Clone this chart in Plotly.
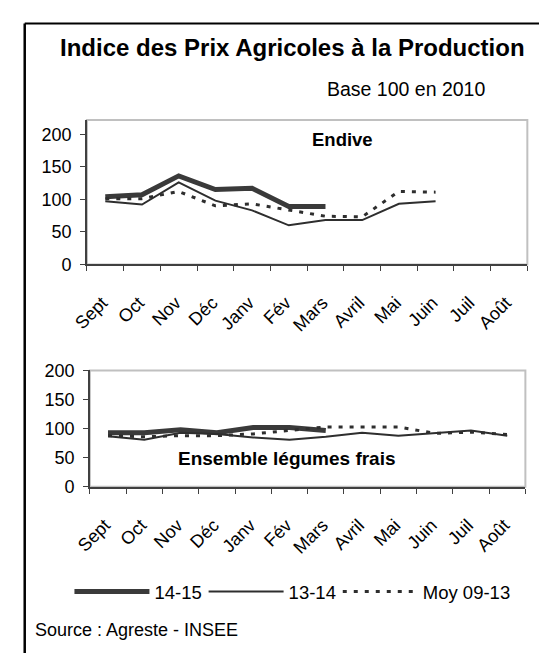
import plotly.graph_objects as go

# ---- data ----
months = ["Sept", "Oct", "Nov", "Déc", "Janv", "Fév", "Mars", "Avril", "Mai", "Juin", "Juil", "Août"]
y_ticks = [0, 50, 100, 150, 200]
series_names = ["14-15", "13-14", "Moy 09-13"]

endive_1415 = [104, 107, 136, 115, 117, 89, 89]
endive_1314 = [97, 92, 126, 98, 83, 60, 68, 68, 93, 97]
endive_moy = [101, 101, 112, 90, 93, 83, 74, 73, 112, 111]

legumes_1415 = [93, 93, 98, 93, 102, 102, 97]
legumes_1314 = [87, 81, 93, 91, 85, 81, 86, 93, 88, 93, 97, 88]
legumes_moy = [88, 86, 88, 88, 91, 97, 103, 103, 103, 92, 94, 90]

# ---- styling ----
FONT = "Liberation Sans, Arial, sans-serif"
W, H = 539, 663
styles = [
    dict(color="#3a3a3a", width=5),
    dict(color="#2e2e2e", width=2),
    dict(color="#2e2e2e", width=3, dash="4px,7px"),
]
legend_ids = ["legend", "legend2", "legend3"]
legend_x_px = [56, 194, 332]

def py(px):
    return 1 - px / H

def pxx(px):
    return px / W

fig = go.Figure()

top = [endive_1415, endive_1314, endive_moy]
bot = [legumes_1415, legumes_1314, legumes_moy]
for i, (vals, name) in enumerate(zip(top, series_names)):
    fig.add_trace(go.Scatter(x=months[:len(vals)], y=vals, mode="lines", name=name,
                             line=styles[i], xaxis="x", yaxis="y", showlegend=True,
                             legend=legend_ids[i]))
for i, (vals, name) in enumerate(zip(bot, series_names)):
    fig.add_trace(go.Scatter(x=months[:len(vals)], y=vals, mode="lines", name=name,
                             line=styles[i], xaxis="x2", yaxis="y2", showlegend=False))

axis_common = dict(showline=True, linecolor="#404040", linewidth=1.5, ticks="outside",
                   tickcolor="#404040", ticklen=5, tickwidth=1.2, showgrid=False, zeroline=False,
                   tickfont=dict(family=FONT, size=18, color="#000"))

xcommon = dict(axis_common, type="category", categoryorder="array", categoryarray=months,
               range=[-0.5, 11.5], tickson="boundaries", tickangle=-45,
               ticklabelstandoff=19, ticklabelshift=-3)
ycommon = dict(axis_common, ticklabelstandoff=5, tickvals=y_ticks)

legend_common = dict(orientation="h", yanchor="middle", xanchor="left",
                     font=dict(family=FONT, size=18.5, color="#000"), itemwidth=75,
                     bgcolor="rgba(0,0,0,0)", borderwidth=0)

fig.update_layout(
    width=W, height=H,
    margin=dict(l=0, r=0, t=0, b=0),
    paper_bgcolor="white", plot_bgcolor="white",
    xaxis=dict(xcommon, domain=[pxx(74), pxx(527)], anchor="y"),
    yaxis=dict(ycommon, domain=[py(262.3), py(113.3)], range=[0, 222], anchor="x"),
    xaxis2=dict(xcommon, domain=[pxx(77), pxx(525)], anchor="y2"),
    yaxis2=dict(ycommon, domain=[py(491.7), py(371.7)], range=[0, 200], anchor="x2"),
    showlegend=True,
    legend=dict(legend_common, x=pxx(legend_x_px[0]), y=py(600)),
    legend2=dict(legend_common, x=pxx(legend_x_px[1]), y=py(600)),
    legend3=dict(legend_common, x=pxx(legend_x_px[2]), y=py(600)),
)

# plot area borders (gray) and outer frame
for xr, yr in (("x domain", "y domain"), ("x2 domain", "y2 domain")):
    fig.add_shape(type="rect", xref=xr, yref=yr, x0=0, x1=1, y0=0, y1=1,
                  line=dict(color="#c0c0c0", width=2), layer="below")
fig.add_shape(type="line", xref="paper", yref="paper", x0=pxx(10), x1=1.0, y0=py(14), y1=py(14),
              line=dict(color="#000", width=2))
fig.add_shape(type="line", xref="paper", yref="paper", x0=pxx(10), x1=pxx(10), y0=py(14), y1=0,
              line=dict(color="#000", width=2.5))

ann = [
    dict(text="<b>Indice des Prix Agricoles à la Production</b>", x=pxx(285), y=py(39), size=24),
    dict(text="Base 100 en 2010", x=pxx(402), y=py(81), size=19.5),
    dict(text="<b>Endive</b>", x=pxx(337), y=py(134), size=18.5),
    dict(text="<b>Ensemble légumes frais</b>", x=pxx(280), y=py(462), size=19),
    dict(text="Source : Agreste - INSEE", x=pxx(19), y=py(639), size=18, xanchor="left"),
]
for a in ann:
    fig.add_annotation(text=a["text"], x=a["x"], y=a["y"], xref="paper", yref="paper",
                       xanchor=a.get("xanchor", "center"), yanchor="middle", showarrow=False,
                       font=dict(family=FONT, size=a["size"], color="#000"))

fig.write_html("out.html", config={"displayModeBar": False},
               post_script="document.body.style.margin='0px';")
